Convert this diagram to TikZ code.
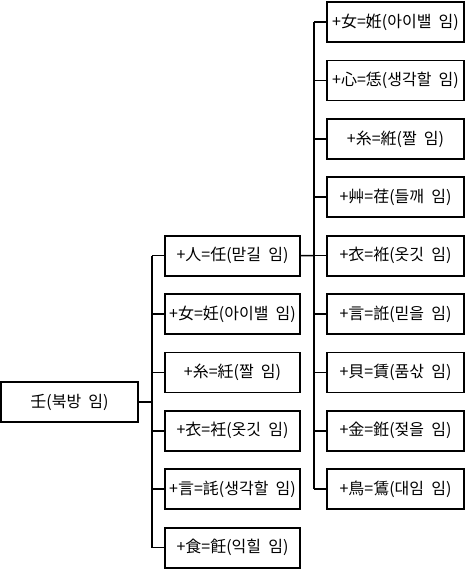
\documentclass[tikz,border=0pt]{standalone}
\usepackage{fontspec}
\setmainfont{Noto Sans CJK KR}
\newcommand{\wgap}{\hspace{0.45em}}
\begin{document}
\begin{tikzpicture}[x=1pt,y=-1pt,
  every node/.style={font=\fontsize{16}{18}\selectfont, inner sep=0pt},
  box/.style={draw, line width=1.8pt, minimum height=40pt, anchor=center},
  rootbox/.style={box, minimum width=137pt},
  lonebox/.style={box, minimum width=135pt},
  ltwobox/.style={box, minimum width=137pt},
  link/.style={line width=1.6pt}]
\useasboundingbox (0,0) rectangle (466,570);
% root
\node[rootbox] (root) at (69.5,402) {壬(북방\wgap 임)};
% level 1
\foreach \i/\t [evaluate=\i as \y using 22+58.4*(\i+3)] in
  {1/{+人=任(맏길\wgap 임)},2/{+女=妊(아이밸\wgap 임)},3/{+糸=紝(짤\wgap 임)},
   4/{+衣=衽(옷깃\wgap 임)},5/{+言=䚽(생각할\wgap 임)},6/{+食=飪(익힐\wgap 임)}}{
  \node[lonebox] (a\i) at (232.5,\y) {\t};
}
% level 2
\foreach \i/\t [evaluate=\i as \y using 22+58.4*(\i-1)] in
  {1/{+女=姙(아이밸\wgap 임)},2/{+心=恁(생각할\wgap 임)},3/{+糸=絍(짤\wgap 임)},
   4/{+艸=荏(들깨\wgap 임)},5/{+衣=袵(옷깃\wgap 임)},6/{+言=䛘(믿을\wgap 임)},
   7/{+貝=賃(품삯\wgap 임)},8/{+金=銋(젖을\wgap 임)},9/{+鳥=鵀(대임\wgap 임)}}{
  \node[ltwobox] (b\i) at (395.5,\y) {\t};
}
% connectors level 1
\coordinate (t1) at (152,402);
\draw[link] (root.east) -- (t1);
\draw[link] (t1 |- a1.west) -- (t1 |- a6.west);
\foreach \i in {1,...,6}{\draw[link] (t1 |- a\i.west) -- (a\i.west);}
% connectors level 2
\coordinate (t2) at (314,255.6);
\draw[link] (a1.east) -- (t2);
\draw[link] (t2 |- b1.west) -- (t2 |- b9.west);
\foreach \i in {1,...,9}{\draw[link] (t2 |- b\i.west) -- (b\i.west);}
\end{tikzpicture}
\end{document}
